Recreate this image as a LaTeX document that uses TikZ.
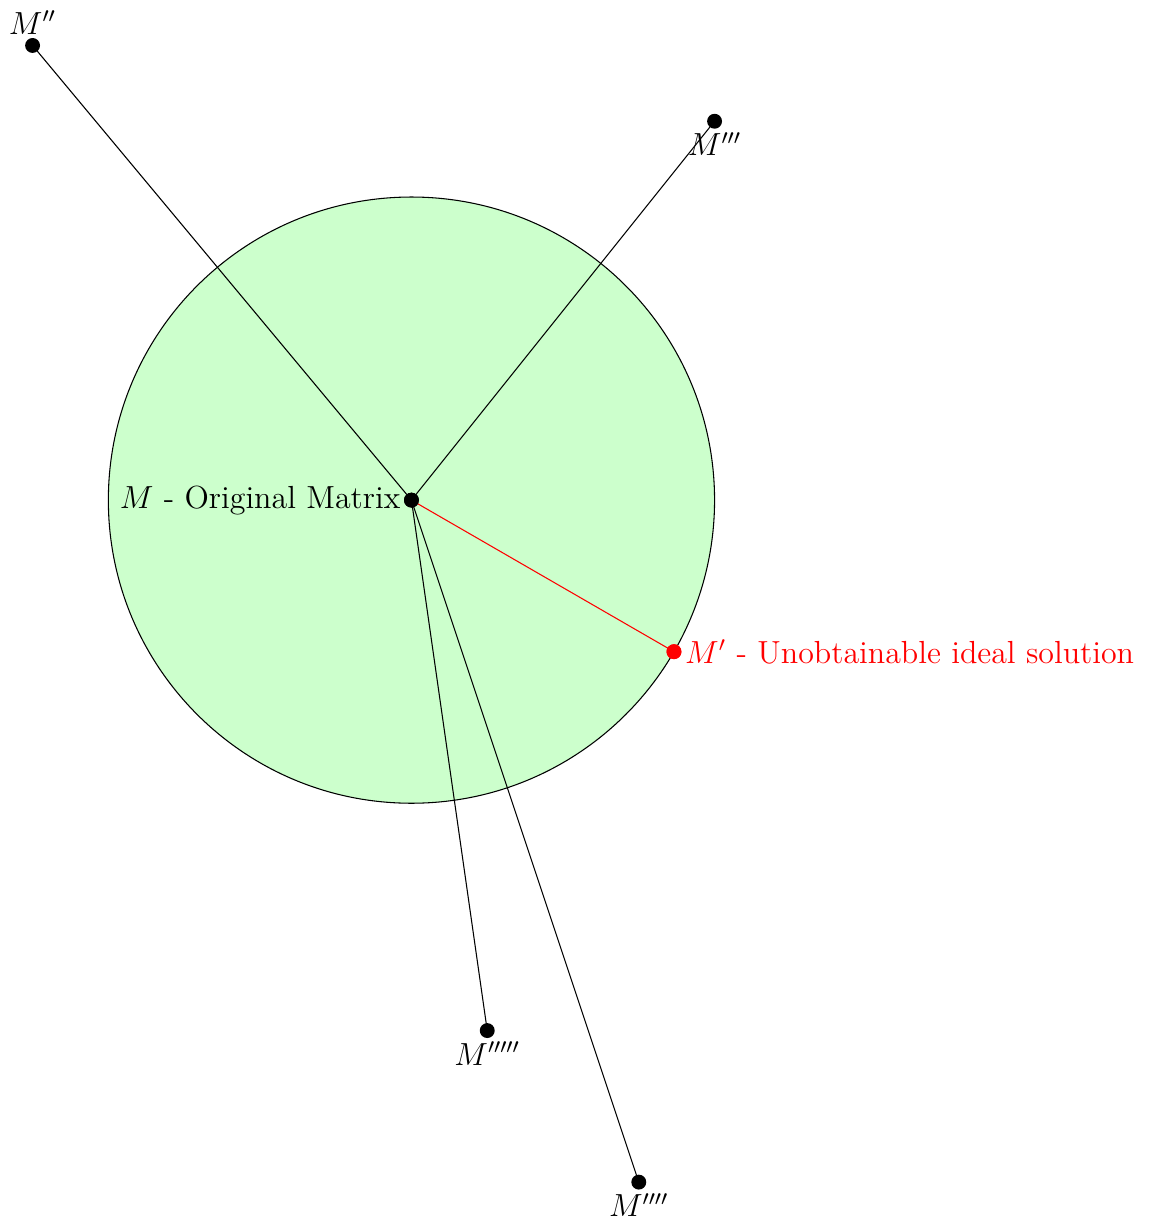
\documentclass[tikz,border=0pt]{standalone}
\begin{document}
\begin{tikzpicture}[
  dot/.style={circle,fill=#1,inner sep=0pt,minimum size=5.6pt},
  dot/.default=black,
  lbl/.style={inner sep=1pt,font=\large}
]
\useasboundingbox (-5.43,-9.50) rectangle (9.76,6.60);
\filldraw[fill=green!20,draw=black] (0,0) circle (4);
\node[dot] (M) at (0,0) {};
\node[dot] (M2) at (-5,6) {};
\node[dot] (M3) at (4,5) {};
\node[dot] (M5) at (1,-7) {};
\node[dot] (M4) at (3,-9) {};
\node[dot=red] (M1) at (-30:4) {};
\draw (M.center) -- (M2.center);
\draw (M.center) -- (M3.center);
\draw (M.center) -- (M5.center);
\draw (M.center) -- (M4.center);
\draw[red] (M.center) -- (M1.center);
\node[dot] at (0,0) {};
\node[dot=red] at (-30:4) {};
\node[lbl,anchor=east] (tM) at (M.west) {$M$ - Original Matrix};
\node[lbl,anchor=south] (tM2) at (M2.north) {$M''$};
\node[lbl,anchor=north] (tM3) at (M3.south) {$M'''$};
\node[lbl,anchor=north] (tM5) at (M5.south) {$M'''''$};
\node[lbl,anchor=north] (tM4) at (M4.south) {$M''''$};
\node[lbl,anchor=west,text=red] (tM1) at (M1.east) {$M'$ - Unobtainable ideal solution};
\end{tikzpicture}
\end{document}
